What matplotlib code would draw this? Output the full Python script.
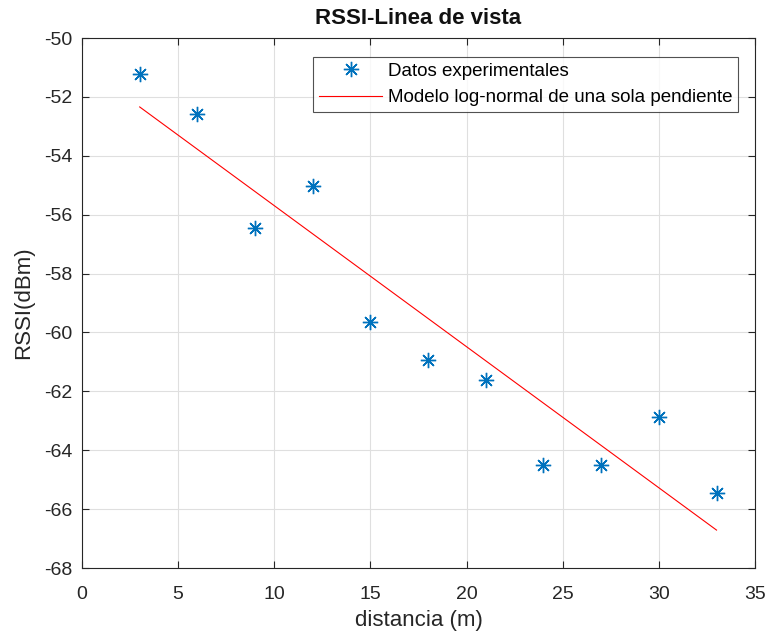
import matplotlib
matplotlib.use("Agg")
import matplotlib.pyplot as plt

# Data
dist = [3, 6, 9, 12, 15, 18, 21, 24, 27, 30, 33]
rssi = [-51.22, -52.58, -56.45, -55.03, -59.65, -60.94, -61.62, -64.5, -64.5, -62.87, -65.45]
model_x = [3, 33]
model_y = [-52.34, -66.71]
xticks = [0, 5, 10, 15, 20, 25, 30, 35]
yticks = [-68, -66, -64, -62, -60, -58, -56, -54, -52, -50]

plt.rcParams['font.family'] = ['Liberation Sans', 'DejaVu Sans']
plt.rcParams['axes.unicode_minus'] = False

fig = plt.figure(figsize=(7.7, 6.34), dpi=100)
ax = fig.add_axes([0.1065, 0.104, 0.874, 0.836])

ax.plot(dist, rssi, linestyle='none', marker=(8, 2, 0), markersize=11,
        markeredgewidth=1.0, color='#0072BD', label='Datos experimentales')
ax.plot(model_x, model_y, color='#FF0000', linewidth=0.8,
        label='Modelo log-normal de una sola pendiente')

ax.set_xlim(0, 35)
ax.set_ylim(-68, -50)
ax.set_xticks(xticks)
ax.set_yticks(yticks)
ax.grid(True, color='#DFDFDF', linewidth=0.8)
ax.set_axisbelow(True)
for s in ax.spines.values():
    s.set_color('#262626')
    s.set_linewidth(0.8)
ax.tick_params(direction='in', top=True, right=True, length=5, width=0.8,
               colors='#262626', labelsize=14, labelcolor='#262626')
ax.tick_params(axis='x', pad=13)
ax.tick_params(axis='y', pad=7)

ax.set_xlabel('distancia (m)', fontsize=16, color='#262626', labelpad=5)
ax.set_ylabel('RSSI(dBm)', fontsize=16, color='#262626', labelpad=7)
ax.set_title('RSSI-Linea de vista', fontsize=16, fontweight='bold', color='#111111', pad=10)

leg = ax.legend(loc='upper right', bbox_to_anchor=(0.975, 0.964), fontsize=13.5,
                frameon=True, fancybox=False, edgecolor='#262626',
                borderpad=0.3, handlelength=3.4, labelspacing=0.5, handletextpad=0.3,
                borderaxespad=0.0)
leg.get_frame().set_linewidth(0.8)

fig.savefig('out.png', dpi=100)
